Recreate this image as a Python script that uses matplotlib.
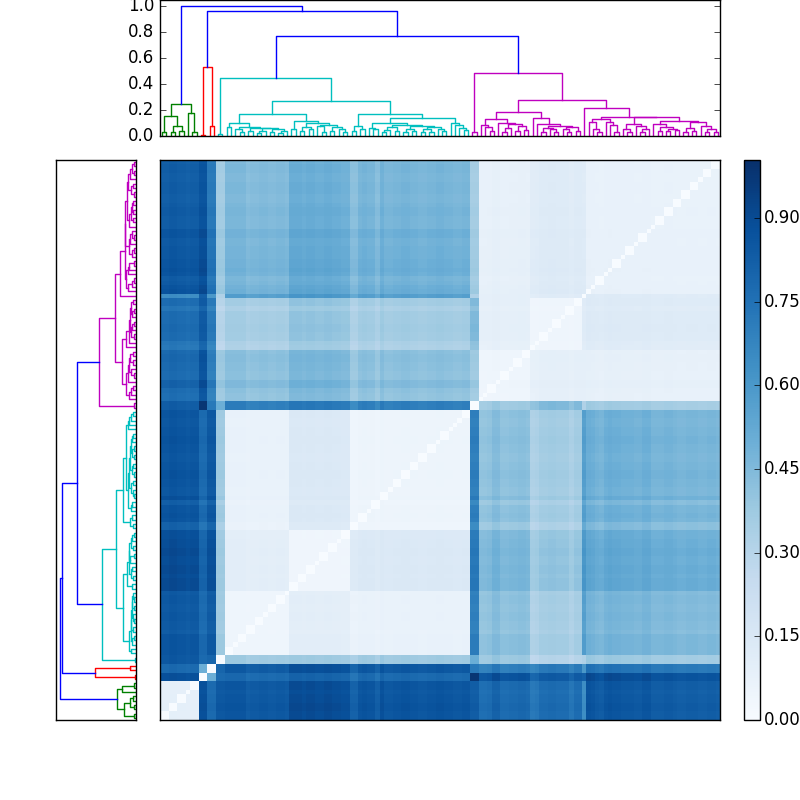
import matplotlib
matplotlib.use("Agg")
import matplotlib.pyplot as plt
import numpy as np

plt.style.use("classic")

# merge trees: (height, left, right), 0 is a leaf
green_tree = (.246, (.154, (.03, 0, 0), (.08, (.03, 0, 0), (.035, 0, 0))), (.18, 0, (.03, 0, 0)))
red_tree = (.533, (.01, 0, 0), (.08, 0, 0))

cyan_a = (.097,
          (.067, 0, 0),
          (.069,
           (.055, 0, (.032, 0, 0)),
           (.064,
            (.035, 0, 0),
            (.058,
             (.04, (.02, 0, 0), 0),
             (.05, (.03, 0, 0), (.042, (.02, 0, 0), 0))))))
cyan_b = (.118,
          (.05, 0, 0),
          (.097,
           (.067, (.04, 0, 0), (.05, 0, 0)),
           (.085,
            (.075, 0, (.03, 0, 0)),
            (.07, (.04, 0, 0), (.05, 0, (.03, 0, 0))))))
cyan_c = (.17,
          (.077, (.04, 0, 0), (.05, 0, 0)),
          (.136,
           (.102,
            (.065, 0, (.05, 0, 0)),
            (.085,
             (.07, (.045, (.03, 0, 0), 0), (.04, 0, 0)),
             (.075,
              (.05, (.03, 0, 0), (.035, 0, 0)),
              (.066,
               (.05, (.03, 0, 0), (.03, 0, 0)),
               (.055, 0, (.035, 0, 0)))))),
           (.10, 0, (.085, 0, (.065, 0, (.045, 0, 0))))))
cyan_tree = (.449, (.012, 0, 0), (.267, (.167, cyan_a, cyan_b), cyan_c))

mag_a = (.128,
         (.085, 0, (.07, 0, (.035, 0, 0))),
         (.10,
          0,
          (.09,
           (.06, (.03, 0, 0), 0),
           (.075, (.04, 0, 0), (.045, 0, 0)))))
mag_b = (.136,
         0,
         (.092,
          0,
          (.08,
           (.062, (.03, 0, 0), (.05, 0, (.03, 0, 0))),
           (.07, (.055, 0, (.03, 0, 0)), (.04, 0, 0)))))
mag_c = (.148,
         (.133,
          (.11, 0, (.05, 0, (.03, 0, 0))),
          (.11, 0, (.085, 0, (.03, 0, 0)))),
         (.146,
          (.09, (.05, 0, (.03, 0, 0)), (.075, 0, (.055, (.03, 0, 0), 0))),
          (.115,
           (.095, 0, (.07, (.035, 0, 0), (.055, (.035, 0, 0), (.045, 0, 0)))),
           (.108,
            (.06, (.03, 0, 0), (.04, 0, 0)),
            (.075, 0, (.05, (.03, 0, 0), (.03, 0, 0)))))))
magenta_tree = (.482, (.028, 0, 0), (.28, (.187, mag_a, mag_b), (.213, 0, mag_c)))

# heights of the three blue merges above the coloured clusters
blue_heights = [1.0, .964, .772]

# distance blocks, order: green, red a, red b, cyan pair, cyan A, B, C,
# magenta pair, magenta A, magenta B, magenta single, magenta C
group_sizes = [9, 2, 2, 2, 15, 14, 28, 2, 12, 12, 1, 31]
block_values = [
    [.09, .88, .78, .85, .85, .89, .86, .83, .78, .77, .64, .83],
    [.88, .00, .50, .78, .78, .80, .78, .98, .87, .84, .82, .87],
    [.78, .50, .00, .80, .84, .88, .85, .72, .70, .72, .60, .72],
    [.85, .78, .80, .00, .37, .37, .37, .50, .38, .30, .32, .36],
    [.85, .78, .84, .37, .045, .10, .07, .70, .42, .35, .57, .45],
    [.89, .80, .88, .37, .10, .04, .14, .72, .46, .40, .60, .50],
    [.86, .78, .85, .37, .07, .14, .05, .70, .42, .36, .57, .47],
    [.83, .98, .72, .50, .70, .72, .70, .00, .37, .45, .32, .35],
    [.78, .87, .70, .38, .42, .46, .42, .37, .045, .09, .09, .08],
    [.77, .84, .72, .30, .35, .40, .36, .45, .09, .045, .12, .125],
    [.64, .82, .60, .32, .57, .60, .57, .32, .09, .12, .00, .12],
    [.83, .87, .72, .36, .45, .50, .47, .35, .08, .125, .12, .07],
]

# per leaf shift
leaf_shift = [
    0, 0, .01, .01, 0, 0, -.01, 0, 0,
    0, 0, 0, 0, 0, 0,
    .01, .01, .01, .01, .01, -.02, -.01, -.01, 0, 0, -.01, -.01, 0, 0, -.01,
    .01, .01, .01, 0, .01, .01, 0, 0, .01, .01, 0, 0, -.01, -.01,
    -.05, -.05, 0, .01, 0, 0, -.04, .02, -.01, -.01, 0, 0, .01, .01, 0, 0,
    -.01, -.01, 0, 0, .01, .01, 0, 0, -.01, -.01, 0, 0,
    0, 0,
    -.02, -.02, -.01, .03, .03, -.01, -.01, 0, 0, .01, .01, 0,
    -.05, -.04, 0, 0, .01, .01, 0, 0, 0, -.04, 0, 0,
    0,
    .04, .03, .01, 0, .03, .04, .03, .03, .02, .02, .02, .01, .01, .03, .03, 0,
    0, 0, .01, .01, 0, -.01, -.01, 0, 0, 0, -.01, -.01, 0, 0, -.01,
]

cbar_ticks = [0.0, 0.15, 0.30, 0.45, 0.60, 0.75, 0.90]
height_ticks = [0.0, 0.2, 0.4, 0.6, 0.8, 1.0]
height_max = 1.046
dist_max = 1.004

GREEN = (0, .5, 0)
RED = (1, 0, 0)
CYAN = (0, .75, .75)
MAGENTA = (.75, 0, .75)
BLUE = (0, 0, 1)


def draw_link(ax, p1, h1, p2, h2, top, color, vertical):
    pos = [p1, p1, p2, p2]
    hts = [h1, top, top, h2]
    if vertical:
        ax.plot(pos, hts, color=color, lw=1)
    else:
        ax.plot(hts, pos, color=color, lw=1)


def draw_tree(ax, node, color, vertical, counter, pairs):
    """Walks the tree left to right, draws it, returns (position, height)."""
    if node == 0:
        counter[0] += 1
        return counter[0] - 0.5, 0.0
    top, left, right = node
    if left == 0 and right == 0:
        pairs.append((counter[0], counter[0] + 1))
    p1, h1 = draw_tree(ax, left, color, vertical, counter, pairs)
    p2, h2 = draw_tree(ax, right, color, vertical, counter, pairs)
    draw_link(ax, p1, h1, p2, h2, top, color, vertical)
    return (p1 + p2) / 2, top


def draw_dendrogram(ax, vertical):
    counter = [0]
    pairs = []
    p_g, h_g = draw_tree(ax, green_tree, GREEN, vertical, counter, pairs)
    p_r, h_r = draw_tree(ax, red_tree, RED, vertical, counter, pairs)
    p_c, h_c = draw_tree(ax, cyan_tree, CYAN, vertical, counter, pairs)
    p_m, h_m = draw_tree(ax, magenta_tree, MAGENTA, vertical, counter, pairs)
    p3 = (p_c + p_m) / 2
    draw_link(ax, p_c, h_c, p_m, h_m, blue_heights[2], BLUE, vertical)
    p2 = (p_r + p3) / 2
    draw_link(ax, p_r, h_r, p3, blue_heights[2], blue_heights[1], BLUE, vertical)
    draw_link(ax, p_g, h_g, p2, blue_heights[1], blue_heights[0], BLUE, vertical)
    return counter[0], pairs


fig = plt.figure(figsize=(8, 8), dpi=100, facecolor="white")
ax_top = fig.add_axes([0.2, 0.83, 0.7, 0.17])
ax_left = fig.add_axes([0.07, 0.1, 0.1, 0.7])
ax_heat = fig.add_axes([0.2, 0.1, 0.7, 0.7])
ax_cbar = fig.add_axes([0.93, 0.1, 0.02, 0.7])

n_leaves, leaf_pairs = draw_dendrogram(ax_top, True)
draw_dendrogram(ax_left, False)

# build the matrix from the blocks; stripes fade out in the pale blocks
groups = np.repeat(np.arange(len(group_sizes)), group_sizes)
blocks = np.array(block_values)[np.ix_(groups, groups)]
shift = np.array(leaf_shift)
dist = blocks + (shift[:, None] + shift[None, :]) * np.minimum(blocks, 0.5) / 0.5
for i, j in leaf_pairs:
    dist[i, j] = dist[j, i] = 0.0
np.fill_diagonal(dist, 0.0)
dist = np.clip(dist, 0.0, dist_max)

im = ax_heat.imshow(
    dist,
    cmap="Blues",
    vmin=0.0,
    vmax=dist_max,
    origin="lower",
    aspect="auto",
    interpolation="nearest",
    extent=[0, n_leaves, 0, n_leaves],
)
ax_heat.set_xticks([])
ax_heat.set_yticks([])

ax_top.set_xlim(0, n_leaves)
ax_top.set_ylim(0, height_max)
ax_top.set_xticks([])
ax_top.set_yticks(height_ticks)

ax_left.set_ylim(0, n_leaves)
ax_left.set_xlim(height_max, 0)
ax_left.set_xticks([])
ax_left.set_yticks([])

cbar = fig.colorbar(im, cax=ax_cbar, ticks=cbar_ticks, format="%.2f")
cbar.ax.tick_params(pad=2.5)

fig.savefig("out.png", dpi=100, facecolor="white")
plt.close(fig)
